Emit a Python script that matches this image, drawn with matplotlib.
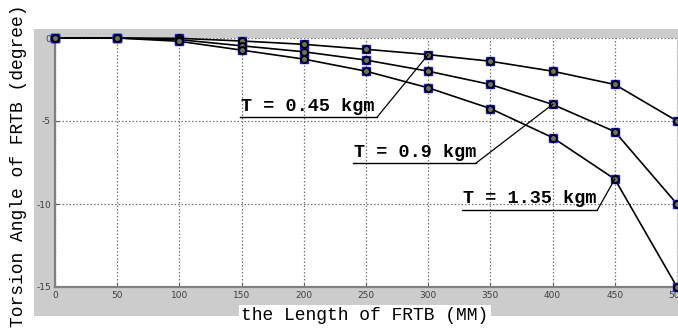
import matplotlib
matplotlib.use("Agg")
import matplotlib.pyplot as plt
from matplotlib.patches import Rectangle

# ---- data ----
lengths = [0, 50, 100, 150, 200, 250, 300, 350, 400, 450, 500]
angle_045 = [0, 0, -0.02, -0.18, -0.38, -0.68, -1.0, -1.4, -2.0, -2.8, -5.0]
angle_090 = [0, 0, -0.1, -0.47, -0.83, -1.33, -2.0, -2.8, -4.0, -5.64, -10.0]
angle_135 = [0, 0, -0.2, -0.73, -1.27, -2.0, -3.0, -4.25, -6.0, -8.5, -15.0]
series_labels = ["T = 0.45 kgm", "T = 0.9 kgm", "T = 1.35 kgm"]
xticks = [0, 50, 100, 150, 200, 250, 300, 350, 400, 450, 500]
yticks = [0, -5, -10, -15]
xlabel = "the Length of FRTB (MM)"
ylabel = "Torsion Angle of FRTB (degree)"

W, H = 678, 331
fig = plt.figure(figsize=(W / 100, H / 100), dpi=100)
fig.patch.set_facecolor("white")

# gray figure background region
bg = Rectangle((34 / W, (H - 316) / H), (W - 34) / W, (316 - 29) / H,
               transform=fig.transFigure, facecolor="#cccccc",
               edgecolor="none", zorder=-10)
fig.add_artist(bg)

ax_l, ax_r, ax_t, ax_b = 55, 677, 38, 287
ax = fig.add_axes([ax_l / W, (H - ax_b) / H, (ax_r - ax_l) / W, (ax_b - ax_t) / H])
ax.set_zorder(1)
ax.set_facecolor("white")
ax.set_xlim(0, 500)
ax.set_ylim(-15, 0)

for s in ["top", "right"]:
    ax.spines[s].set_visible(False)
for s in ["left", "bottom"]:
    ax.spines[s].set_color("#808080")
    ax.spines[s].set_linewidth(1.6)

ax.set_xticks(xticks)
ax.set_yticks(yticks)
ax.set_xticklabels([str(v) for v in xticks])
ax.set_yticklabels([str(v) for v in yticks])
ax.tick_params(direction="in", length=3, width=0.8, color="#606060",
               labelsize=6.5, labelcolor="#404040", pad=3)
ax.grid(True, linestyle=(0, (1.2, 1.6)), color="#777777", linewidth=0.9)
ax.set_axisbelow(True)

for ys in [angle_045, angle_090, angle_135]:
    ax.plot(lengths, ys, color="black", linewidth=1.2, zorder=3, clip_on=False)
    ax.plot(lengths, ys, linestyle="none", marker="s", markersize=6,
            markerfacecolor="#1a1aff", markeredgecolor="#1a1aff", zorder=4, clip_on=False)
    ax.plot(lengths, ys, linestyle="none", marker="o", markersize=5,
            markerfacecolor="#6e6e6e", markeredgecolor="black", markeredgewidth=1.4,
            zorder=5, clip_on=False)

# annotations: (underline x0, x1, y), target point
annots = [
    (series_labels[0], 148.5, 259.0, -4.76, (300, angle_045[6])),
    (series_labels[1], 239.5, 338.5, -7.53, (400, angle_090[8])),
    (series_labels[2], 327.0, 436.0, -10.36, (450, angle_135[9])),
]
for txt, x0, x1, yu, (tx, ty) in annots:
    ax.plot([x0, x1], [yu, yu], color="black", linewidth=1.0, zorder=6)
    ax.plot([x1, tx], [yu, ty], color="black", linewidth=0.9, zorder=6)
    ax.text(x0 + 1, yu + 0.15, txt, family="Liberation Mono", fontweight="bold",
            fontsize=13.3, ha="left", va="bottom", color="black", zorder=7)

fig.text(365 / W, (H - 316) / H, xlabel, family="Liberation Mono", fontsize=13,
         ha="center", va="center", color="black",
         bbox=dict(facecolor="white", edgecolor="none", pad=1.5), zorder=10)
fig.text(19 / W, (H - 166) / H, ylabel, family="Liberation Mono", fontsize=13,
         rotation=90, ha="center", va="center", color="black", zorder=10)

fig.savefig("out.png", dpi=100, facecolor="white")
